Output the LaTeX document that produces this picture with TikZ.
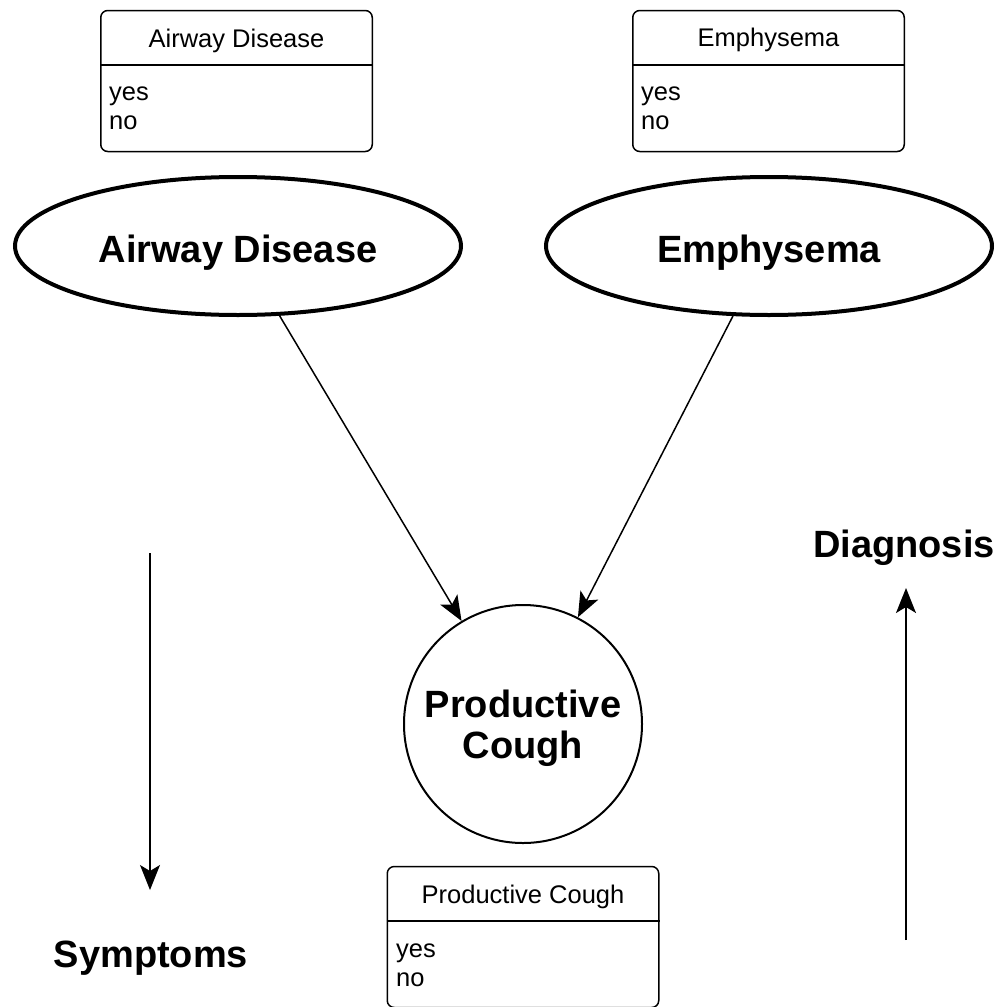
\documentclass[tikz,border=0pt]{standalone}
\usepackage{fontspec}
\setmainfont{Liberation Sans}
\usetikzlibrary{shapes.geometric,arrows.meta,calc}
\tikzset{
  tbl/.style={draw, line width=1.5pt, rounded corners=7pt, minimum width=271.5pt, minimum height=141pt, inner sep=0pt},
  hdr/.style={anchor=base, inner sep=0pt, font=\fontsize{25.5}{30}\selectfont},
  vals/.style={anchor=north west, inner sep=0pt, align=left, font=\fontsize{25.5}{29}\selectfont},
  var/.style={draw, ellipse, line width=4pt, minimum width=446pt, minimum height=138pt, inner sep=0pt, text height=32pt, text depth=0pt, font=\bfseries\fontsize{38}{41}\selectfont},
  obs/.style={draw, circle, line width=2pt, minimum size=238pt, inner sep=0pt},
  obstext/.style={inner sep=0pt, align=center, font=\bfseries\fontsize{38}{41}\selectfont},
  arr/.style={line width=1.5pt, -{Stealth[length=25pt,width=20pt,inset=6pt]}},
  lbl/.style={anchor=base, inner sep=0pt, font=\bfseries\fontsize{38}{41}\selectfont}
}
\begin{document}
\begin{tikzpicture}[x=1pt,y=-1pt]
\useasboundingbox (0,0) rectangle (1002,1007);
% probability tables
\node[tbl] (adtab) at (236.5,81) {};
\draw[line width=1.5pt] ($(adtab.north west)+(0,55)$) -- ($(adtab.north east)+(0,55)$);
\node[hdr] (adhdr) at ($(adtab.north)+(0,38)$) {Airway Disease};
\node[vals] (advals) at (109,87) {yes\\no};

\node[tbl] (emtab) at (768.5,81) {};
\draw[line width=1.5pt] ($(emtab.north west)+(0,55)$) -- ($(emtab.north east)+(0,55)$);
\node[hdr] (emhdr) at ($(emtab.north)+(0,37)$) {Emphysema};
\node[vals] (emvals) at (641,87) {yes\\no};

\node[tbl] (pctab) at (523,937) {};
\draw[line width=1.5pt] ($(pctab.north west)+(0,55)$) -- ($(pctab.north east)+(0,55)$);
\node[hdr] (pchdr) at ($(pctab.north)+(0,38)$) {Productive Cough};
\node[vals] (pcvals) at (396,944) {yes\\no};

% variables
\node[var] (ad) at (238,246) {Airway Disease};
\node[var] (em) at (769,246) {Emphysema};
\node[obs] (pc) at (523,724) {};
\node[obstext] (pctext) at (523,728) {Productive\\Cough};

\draw[arr] (ad) -- (pc);
\draw[arr] (em) -- (pc);

% direction arrows
\coordinate (s1) at (150,553);
\coordinate (s2) at (150,890);
\draw[arr] (s1) -- (s2);
\node[lbl] (symp) at (151,967) {Symptoms};

\coordinate (d1) at (906,940);
\coordinate (d2) at (906,588);
\draw[arr] (d1) -- (d2);
\node[lbl] (diag) at (904,557) {Diagnosis};
\end{tikzpicture}
\end{document}
